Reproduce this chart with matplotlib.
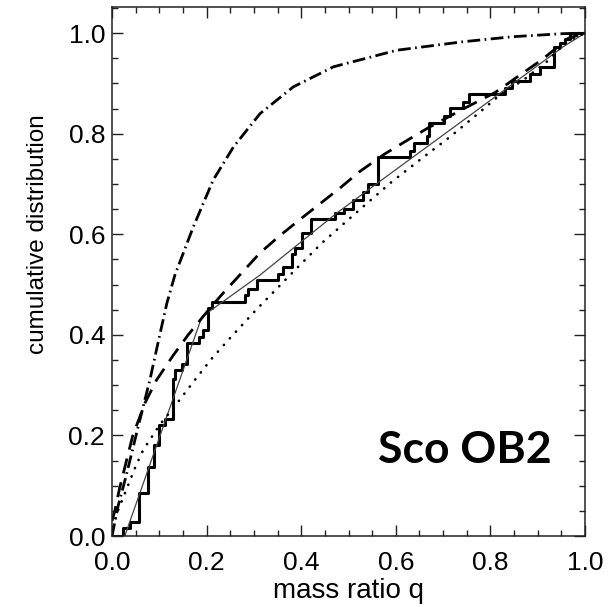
import matplotlib
matplotlib.use("Agg")
import matplotlib.pyplot as plt
from matplotlib.ticker import MultipleLocator

# observed cumulative distribution (jump positions and levels after each jump)
step_q = [0.0, 0.024, 0.038, 0.058, 0.077, 0.089, 0.100, 0.112, 0.128, 0.133,
          0.147, 0.158, 0.183, 0.193, 0.202, 0.211, 0.281, 0.288, 0.306, 0.350,
          0.362, 0.380, 0.387, 0.401, 0.421, 0.471, 0.490, 0.510, 0.531, 0.542,
          0.562, 0.630, 0.639, 0.665, 0.671, 0.702, 0.714, 0.742, 0.754, 0.831,
          0.845, 0.884, 0.905, 0.935, 0.947, 0.958, 0.968, 1.0]
step_c = [0.0, 0.015, 0.028, 0.085, 0.138, 0.181, 0.221, 0.232, 0.313, 0.330,
          0.343, 0.384, 0.396, 0.410, 0.453, 0.466, 0.479, 0.492, 0.509, 0.522,
          0.535, 0.560, 0.573, 0.602, 0.630, 0.643, 0.651, 0.668, 0.684, 0.700,
          0.754, 0.766, 0.781, 0.795, 0.821, 0.836, 0.851, 0.864, 0.878, 0.890,
          0.905, 0.918, 0.932, 0.973, 0.980, 0.988, 1.0, 1.0]

# thin solid model
thin_q = [0.027, 0.19, 0.313, 0.475, 0.56, 0.743, 0.954, 1.0]
thin_c = [0.0, 0.436, 0.519, 0.642, 0.701, 0.827, 0.973, 1.0]

# dashed model
dash_q = [0.0, 0.006, 0.016, 0.044, 0.07, 0.094, 0.13, 0.161, 0.193, 0.232,
          0.275, 0.313, 0.352, 0.394, 0.436, 0.482, 0.524, 0.577, 0.619, 0.669,
          0.74, 0.81, 0.86, 0.91, 0.965, 1.0]
dash_c = [0.03, 0.05, 0.095, 0.2, 0.265, 0.31, 0.36, 0.40, 0.437, 0.48,
          0.524, 0.563, 0.595, 0.627, 0.658, 0.692, 0.725, 0.76, 0.784, 0.812,
          0.848, 0.882, 0.915, 0.948, 0.99, 1.0]

# dotted model
dot_q = [0.0, 0.009, 0.023, 0.037, 0.051, 0.066, 0.1, 0.140, 0.175, 0.211,
         0.249, 0.306, 0.387, 0.443, 0.503, 0.591, 0.655, 0.715, 0.774, 0.820,
         0.870, 0.919, 0.961, 1.0]
dot_c = [0.0, 0.042, 0.075, 0.108, 0.141, 0.171, 0.22, 0.267, 0.31, 0.353,
         0.393, 0.451, 0.529, 0.582, 0.632, 0.704, 0.751, 0.794, 0.840, 0.877,
         0.907, 0.943, 0.983, 1.0]

# dash-dot model
dd_q = [0.0, 0.013, 0.03, 0.056, 0.08, 0.101, 0.116, 0.133, 0.172, 0.214,
        0.257, 0.313, 0.383, 0.468, 0.602, 0.743, 0.848, 0.954, 1.0]
dd_c = [0.0, 0.06, 0.12, 0.22, 0.31, 0.40, 0.463, 0.519, 0.615, 0.708,
        0.774, 0.840, 0.893, 0.933, 0.966, 0.983, 0.993, 0.999, 1.0]

x_ticks = [0.0, 0.2, 0.4, 0.6, 0.8, 1.0]
y_ticks = [0.0, 0.2, 0.4, 0.6, 0.8, 1.0]

plt.rcParams['font.family'] = ['Liberation Sans', 'DejaVu Sans']

fig = plt.figure(figsize=(6.14, 6.07), dpi=100)
ax = fig.add_axes([112 / 614, 71 / 607, 473 / 614, 529 / 607])

ax.step(step_q, step_c, where='post', color='black', lw=2.2)
ax.plot(thin_q, thin_c, color='#444444', lw=0.9)
ax.plot(dash_q, dash_c, color='black', lw=2.0, linestyle=(0, (5.5, 3.3)))
ax.plot(dot_q, dot_c, color='black', lw=1.9, linestyle=(0, (0.1, 3.3)),
        dash_capstyle='round')
ax.plot(dd_q, dd_c, color='black', lw=2.0,
        linestyle=(0, (4.6, 1.6, 0.6, 1.6)))

ax.set_xlim(0, 1)
ax.set_ylim(0, 1.052)
ax.set_xticks(x_ticks)
ax.set_yticks(y_ticks)
ax.set_xticklabels([f'{t:.1f}' for t in x_ticks])
ax.set_yticklabels([f'{t:.1f}' for t in y_ticks])
ax.xaxis.set_minor_locator(MultipleLocator(0.05))
ax.yaxis.set_minor_locator(MultipleLocator(0.05))
ax.tick_params(which='both', direction='in', top=True, right=True, width=1,
               color='#222222')
ax.tick_params(which='major', length=8)
ax.tick_params(which='minor', length=4.3)
ax.tick_params(axis='x', which='major', labelsize=19, pad=11)
ax.tick_params(axis='y', which='major', labelsize=19, pad=5)
for s in ax.spines.values():
    s.set_linewidth(1.1)
    s.set_color('#222222')

ax.set_xlabel('mass ratio q', fontsize=20, labelpad=2)
# the y label sits above the axis centre in the original
ax.set_ylabel('cumulative distribution', fontsize=17.5, labelpad=14, y=0.571)

ax.text(0.562, 0.145, 'Sco OB2', fontsize=32, fontweight='bold',
        family=['Lato', 'DejaVu Sans'], ha='left', va='baseline')

fig.savefig('out.png', dpi=100)
